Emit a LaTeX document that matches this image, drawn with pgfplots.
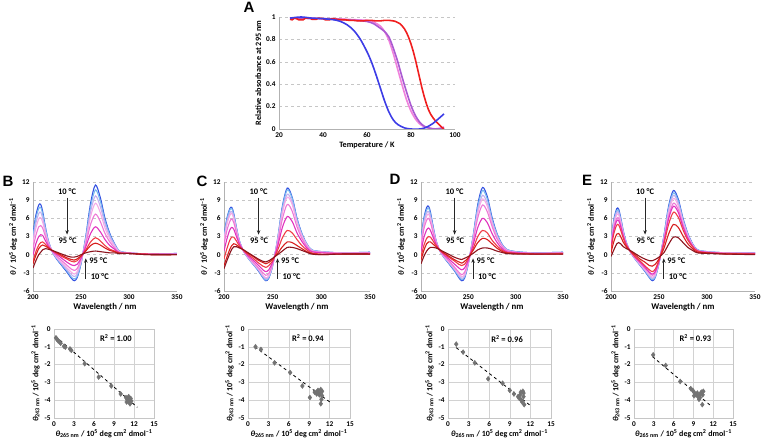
\documentclass[border=0pt]{standalone}
\usepackage{pgfplots}
\pgfplotsset{compat=1.18}
\usepackage{pgfplotstable}
\usepackage{fontspec}
\setmainfont{Carlito}
\newfontfamily\letterfont{Liberation Sans}
\usetikzlibrary{arrows.meta}

\definecolor{c1}{RGB}{50,80,225}
\definecolor{c2}{RGB}{120,185,240}
\definecolor{c3}{RGB}{195,175,240}
\definecolor{c4}{RGB}{245,170,230}
\definecolor{c5}{RGB}{238,120,215}
\definecolor{c6}{RGB}{225,50,190}
\definecolor{c7}{RGB}{240,60,70}
\definecolor{c8}{RGB}{215,30,30}
\definecolor{c9}{RGB}{140,20,30}
\definecolor{aBlue}{RGB}{60,60,230}
\definecolor{aPurple}{RGB}{170,90,210}
\definecolor{aPink}{RGB}{240,130,220}
\definecolor{aRed}{RGB}{240,30,30}

\pgfplotstableread{
w a b c d e f g h i
200 3.5 3.1 2.5 1.9 1.0 -0.1 -1.1 -1.5 -2.2
203 6.5 6.0 5.2 4.4 3.2 1.8 0.5 -0.1 -1.0
206 8.2 7.6 6.8 5.9 4.6 3.0 1.6 1.0 0.0
208 8.3 7.8 7.0 6.1 4.8 3.3 2.0 1.4 0.4
210 7.2 6.8 6.1 5.4 4.4 3.2 2.1 1.6 0.8
213 4.5 4.3 3.9 3.5 3.0 2.3 1.7 1.4 1.0
216 2.3 2.2 2.1 1.9 1.7 1.4 1.2 1.1 0.9
220 0.5 0.5 0.5 0.6 0.6 0.6 0.7 0.7 0.7
225 -0.8 -0.7 -0.6 -0.5 -0.3 0.0 0.2 0.3 0.4
230 -1.8 -1.7 -1.5 -1.3 -1.0 -0.6 -0.3 -0.1 0.1
235 -2.8 -2.6 -2.4 -2.1 -1.7 -1.2 -0.7 -0.5 -0.2
240 -3.9 -3.7 -3.3 -2.9 -2.4 -1.7 -1.1 -0.8 -0.4
243 -4.3 -4.0 -3.6 -3.2 -2.6 -1.8 -1.2 -0.9 -0.4
246 -3.8 -3.6 -3.2 -2.8 -2.3 -1.6 -1.0 -0.7 -0.3
250 -1.5 -1.4 -1.2 -1.1 -0.8 -0.6 -0.3 -0.2 0.0
255 3.0 2.8 2.5 2.2 1.8 1.3 0.8 0.6 0.3
260 8.5 7.9 7.1 6.3 5.0 3.5 2.1 1.5 0.5
265 11.5 10.7 9.7 8.5 6.7 4.6 2.8 1.9 0.6
270 9.5 8.9 8.0 7.0 5.5 3.8 2.3 1.6 0.5
275 6.0 5.6 5.1 4.4 3.5 2.5 1.5 1.1 0.4
280 3.5 3.3 3.0 2.6 2.1 1.5 0.9 0.7 0.3
285 1.8 1.7 1.6 1.4 1.1 0.9 0.6 0.5 0.3
290 0.6 0.6 0.5 0.5 0.4 0.3 0.3 0.2 0.2
300 0.3 0.3 0.3 0.3 0.3 0.2 0.2 0.2 0.2
320 0.1 0.1 0.1 0.1 0.1 0.1 0.1 0.0 0.0
350 0.2 0.2 0.1 0.1 0.1 0.1 0.0 0.0 0.0
}\tabB

\pgfplotstableread{
w a b c d e f g h i
200 3.2 3.0 2.7 2.4 1.7 0.6 -0.7 -1.8 -2.3
203 6.0 5.8 5.3 5.0 4.0 2.6 1.0 -0.4 -1.0
206 7.6 7.4 6.9 6.5 5.5 4.1 2.4 0.9 0.2
208 7.8 7.6 7.1 6.8 5.9 4.5 2.9 1.5 0.9
210 6.8 6.6 6.3 6.0 5.3 4.2 2.9 1.8 1.3
213 4.3 4.2 4.0 3.9 3.5 2.9 2.2 1.6 1.3
216 2.2 2.2 2.1 2.0 1.9 1.7 1.4 1.2 1.1
220 0.6 0.6 0.6 0.6 0.7 0.7 0.7 0.8 0.8
225 -0.6 -0.6 -0.5 -0.5 -0.4 -0.2 0.0 0.2 0.3
230 -1.6 -1.6 -1.5 -1.4 -1.2 -0.9 -0.6 -0.3 -0.2
235 -2.6 -2.5 -2.4 -2.3 -2.1 -1.7 -1.3 -0.9 -0.7
240 -3.8 -3.7 -3.5 -3.4 -3.0 -2.5 -1.9 -1.3 -1.1
243 -4.3 -4.2 -4.0 -3.8 -3.4 -2.8 -2.1 -1.5 -1.2
246 -3.9 -3.8 -3.6 -3.5 -3.1 -2.5 -1.8 -1.3 -1.0
250 -1.8 -1.8 -1.7 -1.6 -1.5 -1.2 -1.0 -0.7 -0.6
255 2.5 2.4 2.3 2.1 1.8 1.3 0.7 0.2 0.0
260 8.0 7.8 7.3 6.9 5.9 4.5 2.8 1.3 0.6
265 11.0 10.7 10.0 9.5 8.3 6.3 4.0 2.1 1.2
270 9.5 9.3 8.7 8.3 7.2 5.5 3.6 2.0 1.2
275 6.0 5.9 5.5 5.3 4.6 3.6 2.5 1.5 1.0
280 3.5 3.4 3.2 3.1 2.7 2.2 1.5 1.0 0.7
285 1.8 1.8 1.7 1.6 1.4 1.1 0.8 0.5 0.4
290 0.8 0.8 0.7 0.7 0.6 0.5 0.3 0.2 0.1
300 0.5 0.5 0.5 0.4 0.4 0.3 0.1 0.0 0.0
320 0.3 0.3 0.3 0.3 0.2 0.2 0.1 0.1 0.1
350 0.4 0.4 0.3 0.3 0.3 0.2 0.1 0.1 0.1
}\tabC

\pgfplotstableread{
w a b c d e f g h i
200 2.5 2.3 2.0 1.7 1.3 0.5 -0.3 -0.9 -1.5
203 6.0 5.7 5.2 4.8 4.2 2.8 1.5 0.7 -0.3
206 7.8 7.4 6.9 6.4 5.7 4.1 2.7 1.8 0.6
208 8.0 7.7 7.1 6.7 6.0 4.4 3.0 2.1 1.0
210 7.0 6.7 6.3 5.9 5.3 4.0 2.9 2.1 1.2
213 4.5 4.3 4.1 3.9 3.5 2.8 2.2 1.7 1.2
216 2.3 2.2 2.1 2.1 2.0 1.7 1.5 1.3 1.1
220 0.6 0.6 0.6 0.6 0.7 0.7 0.7 0.8 0.8
225 -0.6 -0.6 -0.5 -0.4 -0.3 -0.1 0.1 0.2 0.4
230 -1.6 -1.5 -1.4 -1.3 -1.1 -0.8 -0.5 -0.3 0.0
235 -2.6 -2.5 -2.3 -2.2 -2.0 -1.5 -1.0 -0.8 -0.4
240 -3.8 -3.6 -3.4 -3.2 -2.9 -2.2 -1.6 -1.2 -0.7
243 -4.3 -4.1 -3.9 -3.6 -3.3 -2.5 -1.8 -1.4 -0.8
246 -3.9 -3.7 -3.5 -3.3 -2.9 -2.2 -1.6 -1.1 -0.6
250 -1.5 -1.4 -1.3 -1.3 -1.2 -0.9 -0.6 -0.5 -0.3
255 3.0 2.9 2.6 2.5 2.2 1.6 1.0 0.7 0.2
260 8.3 7.9 7.3 6.9 6.1 4.5 3.0 2.0 0.8
265 11.1 10.6 9.8 9.2 8.2 6.0 4.0 2.7 1.1
270 9.6 9.2 8.5 8.0 7.1 5.3 3.6 2.5 1.1
275 6.2 5.9 5.5 5.2 4.7 3.5 2.4 1.8 0.9
280 3.6 3.5 3.2 3.0 2.7 2.1 1.5 1.1 0.6
285 1.9 1.8 1.7 1.6 1.5 1.1 0.8 0.6 0.4
290 0.9 0.9 0.8 0.8 0.7 0.5 0.4 0.3 0.2
300 0.5 0.5 0.4 0.4 0.4 0.3 0.2 0.2 0.1
320 0.3 0.3 0.3 0.2 0.2 0.2 0.1 0.1 0.1
350 0.4 0.4 0.3 0.3 0.3 0.2 0.2 0.1 0.1
}\tabD

\pgfplotstableread{
w a b c d e f g h i
200 2.0 1.9 1.7 1.6 1.4 1.2 0.9 0.3 -0.3
203 5.8 5.6 5.3 5.0 4.5 4.1 3.5 2.2 0.8
206 7.6 7.3 7.0 6.6 6.0 5.6 4.9 3.4 1.8
208 7.5 7.2 6.9 6.6 6.0 5.6 4.9 3.5 2.0
210 6.2 6.0 5.7 5.5 5.0 4.7 4.1 3.0 1.8
213 3.8 3.7 3.5 3.4 3.1 3.0 2.6 2.0 1.3
216 2.0 2.0 1.9 1.8 1.7 1.7 1.5 1.3 1.0
220 0.5 0.5 0.5 0.5 0.6 0.6 0.6 0.6 0.7
225 -0.7 -0.7 -0.6 -0.6 -0.5 -0.4 -0.3 0.0 0.2
230 -1.7 -1.6 -1.6 -1.5 -1.3 -1.2 -1.0 -0.7 -0.3
235 -2.7 -2.6 -2.5 -2.4 -2.2 -2.0 -1.8 -1.2 -0.7
240 -3.8 -3.7 -3.5 -3.3 -3.0 -2.9 -2.5 -1.8 -1.0
243 -4.3 -4.1 -3.9 -3.7 -3.4 -3.2 -2.8 -1.9 -1.0
246 -3.8 -3.7 -3.5 -3.3 -3.0 -2.8 -2.4 -1.6 -0.8
250 -1.4 -1.4 -1.3 -1.2 -1.1 -1.1 -0.9 -0.7 -0.4
255 3.0 2.9 2.7 2.5 2.3 2.1 1.7 1.0 0.3
260 8.0 7.7 7.3 6.9 6.3 5.9 5.0 3.4 1.7
265 10.6 10.2 9.8 9.3 8.5 8.0 7.0 5.0 2.9
270 9.2 8.9 8.5 8.1 7.5 7.0 6.2 4.5 2.8
275 6.0 5.8 5.6 5.3 4.9 4.6 4.1 3.1 2.0
280 3.5 3.4 3.3 3.1 2.9 2.7 2.4 1.8 1.2
285 1.8 1.7 1.7 1.6 1.5 1.4 1.3 1.0 0.7
290 0.8 0.8 0.7 0.7 0.7 0.6 0.6 0.4 0.3
300 0.5 0.5 0.5 0.4 0.4 0.4 0.3 0.3 0.2
320 0.3 0.3 0.3 0.3 0.2 0.2 0.2 0.1 0.1
350 0.3 0.3 0.3 0.2 0.2 0.2 0.1 0.1 0.0
}\tabE

\newcommand{\labfont}{\fontsize{8.8}{10}\selectfont\bfseries}
\newcommand{\ylabfont}{\fontsize{8}{9}\selectfont\bfseries}
\newcommand{\tickfont}{\fontsize{7.3}{8}\selectfont\bfseries}
\newcommand{\notefont}{\fontsize{8.5}{10}\selectfont\bfseries}

\tikzset{
  notef/.style={font=\notefont, inner sep=1pt},
  arr/.style={-{Stealth[length=4.5pt,width=3.5pt]}, line width=0.9pt, black!85},
}

\pgfplotsset{
  base/.style={scale only axis, /pgf/number format/assume math mode=true,
    tick label style={font=\tickfont},
    xlabel style={font=\labfont},
    ylabel style={font=\ylabfont},
    major tick length=0pt,
    axis line style={gray!60, line width=0.7pt}},
  cd/.style={base, width=#1, height=109pt,
    xmin=200, xmax=350, ymin=-6, ymax=12,
    xtick={200,250,300,350}, ytick={-6,-3,0,3,6,9,12},
    axis x line*=bottom, axis y line*=left,
    ymajorgrids, grid style={dashed, gray!45, line width=0.5pt},
    xlabel={Wavelength / nm},
    ylabel={\textit{θ} / 10\textsuperscript{5} deg cm\textsuperscript{2} dmol\textsuperscript{--1}},
    xlabel style={yshift=3pt}, ylabel style={yshift=-2pt}},
  sc/.style={base, width=#1, height=89pt,
    xmin=0, xmax=15, ymin=-5, ymax=0,
    xtick={0,3,6,9,12,15}, ytick={-5,-4,-3,-2,-1,0},
    grid=major, grid style={solid, gray!35, line width=0.5pt},
    axis line style={gray!45, line width=0.6pt},
    xlabel={\textit{θ}\textsubscript{265 nm} / 10\textsuperscript{5} deg cm\textsuperscript{2} dmol\textsuperscript{--1}},
    ylabel={\textit{θ}\textsubscript{243 nm} / 10\textsuperscript{5} deg cm\textsuperscript{2} dmol\textsuperscript{--1}},
    xlabel style={font=\ylabfont, yshift=4pt}, ylabel style={yshift=-2pt}},
  cdl/.style={line width=1.1pt, smooth, tension=0.5},
  pts/.style={only marks, mark=diamond*, mark size=2.5pt, color=black!55},
  fit/.style={black, dashed, line width=0.8pt},
}

\newcommand{\cdcurves}[1]{%
  \addplot[c1,cdl] table[x=w,y=a]{#1};
  \addplot[c2,cdl] table[x=w,y=b]{#1};
  \addplot[c3,cdl] table[x=w,y=c]{#1};
  \addplot[c4,cdl] table[x=w,y=d]{#1};
  \addplot[c5,cdl] table[x=w,y=e]{#1};
  \addplot[c6,cdl] table[x=w,y=f]{#1};
  \addplot[c7,cdl] table[x=w,y=g]{#1};
  \addplot[c8,cdl] table[x=w,y=h]{#1};
  \addplot[c9,cdl] table[x=w,y=i]{#1};
}
\newcommand{\cdnotes}{%
  \node[notef] at (axis cs:235.5,10.4) {10 °C};
  \draw[arr] (axis cs:235.5,9.4) -- (axis cs:235.5,3.3);
  \node[notef] at (axis cs:236,2.3) {95 °C};
  \draw[arr] (axis cs:255,-4.0) -- (axis cs:255,-0.6);
  \node[notef, anchor=west] at (axis cs:257.5,-0.9) {95 °C};
  \node[notef, anchor=west] at (axis cs:259,-3.7) {10 °C};
}

\begin{document}
\begin{tikzpicture}
\path[use as bounding box] (0pt,0pt) rectangle (764pt,439pt);

% ---------- Panel A ----------
\begin{axis}[base, at={(279pt,310pt)}, anchor=south west, width=176pt, height=112pt,
  xmin=20, xmax=100, ymin=0, ymax=1,
  xtick={20,40,60,80,100}, ytick={0,0.2,0.4,0.6,0.8,1},
  axis x line*=bottom, axis y line*=left,
  ymajorgrids, grid style={dashed, gray!45, line width=0.5pt},
  xlabel={Temperature / K}, ylabel={Relative absorbance at 295 nm},
  xlabel style={font=\fontsize{8.2}{9}\selectfont\bfseries, yshift=3pt},
  ylabel style={font=\fontsize{8.2}{9}\selectfont\bfseries, yshift=-2pt}]
\addplot[aPink, line width=1.6pt, smooth] coordinates {(25,0.985) (30,0.99) (35,0.99) (40,0.985) (45,0.985) (50,0.98) (55,0.975) (60,0.97) (63,0.955) (66,0.92) (68,0.87) (70,0.79) (72,0.67) (74,0.53) (76,0.39) (78,0.26) (80,0.16) (82,0.09) (84,0.045) (86,0.02) (88,0.008) (90,0.003) (93,0.0) (95,0.02)};
\addplot[aPurple, line width=1.6pt, smooth] coordinates {(25,0.99) (30,0.99) (35,0.985) (40,0.985) (45,0.98) (50,0.975) (55,0.97) (60,0.96) (63,0.94) (66,0.9) (68,0.87) (70,0.82) (72,0.72) (74,0.6) (76,0.46) (78,0.33) (80,0.21) (82,0.12) (84,0.06) (86,0.025) (88,0.01) (90,0.0) (93,0.005) (95,0.01)};
\addplot[aRed, line width=1.6pt] coordinates {(25,0.98) (26,0.975) (27,0.99) (28,0.985) (29,0.975) (31,0.975) (32,0.99) (34,0.99) (35,0.98) (37,0.98) (38,0.99) (40,0.985) (41,0.975) (43,0.975) (44,0.985) (46,0.98) (48,0.975) (50,0.975) (52,0.97) (54,0.97) (56,0.965) (58,0.965) (60,0.97) (62,0.97) (64,0.965) (66,0.965) (68,0.97) (70,0.97) (72,0.965) (73,0.96) (74,0.95) (75,0.94) (76,0.92) (77,0.895) (78,0.86) (79,0.815) (80,0.76) (81,0.695) (82,0.62) (83,0.535) (84,0.45) (85,0.365) (86,0.29) (87,0.225) (88,0.17) (89,0.13) (90,0.1) (91,0.075) (92,0.055) (93,0.035) (94,0.015) (95,0.0)};
\addplot[aBlue, line width=1.6pt, smooth] coordinates {(25,0.99) (30,1.0) (35,0.99) (40,0.985) (45,0.975) (48,0.96) (51,0.93) (54,0.88) (57,0.80) (60,0.69) (62,0.6) (64,0.49) (66,0.37) (68,0.25) (70,0.15) (72,0.08) (74,0.04) (77,0.01) (80,0.0) (84,0.0) (87,0.015) (90,0.05) (93,0.1) (95,0.135)};
\end{axis}

% ---------- CD panels ----------
\begin{axis}[cd=144pt, at={(33pt,148pt)}, anchor=south west]
\cdcurves{\tabB}
\cdnotes
\end{axis}
\begin{axis}[cd=146pt, at={(224pt,148pt)}, anchor=south west]
\cdcurves{\tabC}
\cdnotes
\end{axis}
\begin{axis}[cd=142pt, at={(421pt,148pt)}, anchor=south west]
\cdcurves{\tabD}
\cdnotes
\end{axis}
\begin{axis}[cd=144pt, at={(611pt,148pt)}, anchor=south west]
\cdcurves{\tabE}
\cdnotes
\end{axis}

% ---------- Scatter panels ----------
\begin{axis}[sc=100pt, at={(54pt,21pt)}, anchor=south west]
\addplot[pts] coordinates {(0.3,-0.5) (0.45,-0.58) (0.6,-0.65) (0.8,-0.72) (1.0,-0.8) (1.5,-0.97) (1.7,-1.02) (2.4,-1.12) (2.6,-1.2) (4.6,-1.95) (6.7,-2.7) (8.6,-3.2) (10.0,-3.65) (10.8,-3.85) (11.0,-3.95) (11.1,-4.05) (11.3,-4.1) (11.4,-4.2) (11.5,-3.9) (11.2,-3.8) (11.6,-4.05) (10.9,-4.1)};
\addplot[fit] coordinates {(0.2,-0.4) (12.5,-4.4)};
\node[notef] at (axis cs:9.3,-0.5) {R\textsuperscript{2} = 1.00};
\end{axis}
\begin{axis}[sc=102pt, at={(248pt,21pt)}, anchor=south west]
\addplot[pts] coordinates {(1.1,-1.0) (1.9,-1.15) (3.9,-1.9) (6.2,-2.45) (8.0,-3.2) (9.1,-3.85) (9.8,-3.55) (10.1,-3.65) (10.3,-3.45) (10.6,-3.6) (10.7,-3.4) (10.9,-3.5) (10.8,-3.95) (10.7,-4.2) (10.5,-3.7) (10.2,-3.5) (10.9,-3.75)};
\addplot[fit] coordinates {(1.0,-1.0) (12.2,-4.15)};
\node[notef] at (axis cs:8.8,-0.5) {R\textsuperscript{2} = 0.94};
\end{axis}
\begin{axis}[sc=103pt, at={(448pt,21pt)}, anchor=south west]
\addplot[pts] coordinates {(1.2,-0.85) (2.2,-1.3) (3.9,-1.9) (5.85,-2.8) (7.95,-3.05) (9.0,-3.45) (9.6,-3.65) (10.2,-3.8) (10.6,-3.55) (10.9,-3.5) (11.0,-3.8) (10.7,-4.0) (11.1,-4.25) (10.4,-3.9) (10.8,-4.1) (11.0,-3.6) (10.5,-3.7)};
\addplot[fit] coordinates {(1.2,-1.05) (12.0,-4.3)};
\node[notef] at (axis cs:8.6,-0.55) {R\textsuperscript{2} = 0.96};
\end{axis}
\begin{axis}[sc=99pt, at={(634pt,21pt)}, anchor=south west]
\addplot[pts] coordinates {(2.9,-1.45) (4.8,-2.05) (7.0,-2.95) (8.6,-3.35) (8.9,-3.45) (9.2,-3.6) (9.4,-3.7) (9.7,-3.8) (9.95,-3.7) (10.2,-3.55) (10.5,-3.5) (9.85,-3.95) (10.35,-4.25) (9.1,-3.75) (10.0,-3.85) (10.4,-3.7) (9.6,-3.6)};
\addplot[fit] coordinates {(2.8,-1.55) (11.6,-4.3)};
\node[notef] at (axis cs:9.3,-0.5) {R\textsuperscript{2} = 0.93};
\end{axis}

% ---------- Panel letters ----------
\node[font=\letterfont\bfseries\fontsize{15}{17}\selectfont] at (249pt,432pt) {A};
\node[font=\letterfont\bfseries\fontsize{15}{17}\selectfont] at (8pt,258pt) {B};
\node[font=\letterfont\bfseries\fontsize{15}{17}\selectfont] at (202pt,258pt) {C};
\node[font=\letterfont\bfseries\fontsize{15}{17}\selectfont] at (395pt,260pt) {D};
\node[font=\letterfont\bfseries\fontsize{15}{17}\selectfont] at (587pt,259pt) {E};
\end{tikzpicture}
\end{document}
